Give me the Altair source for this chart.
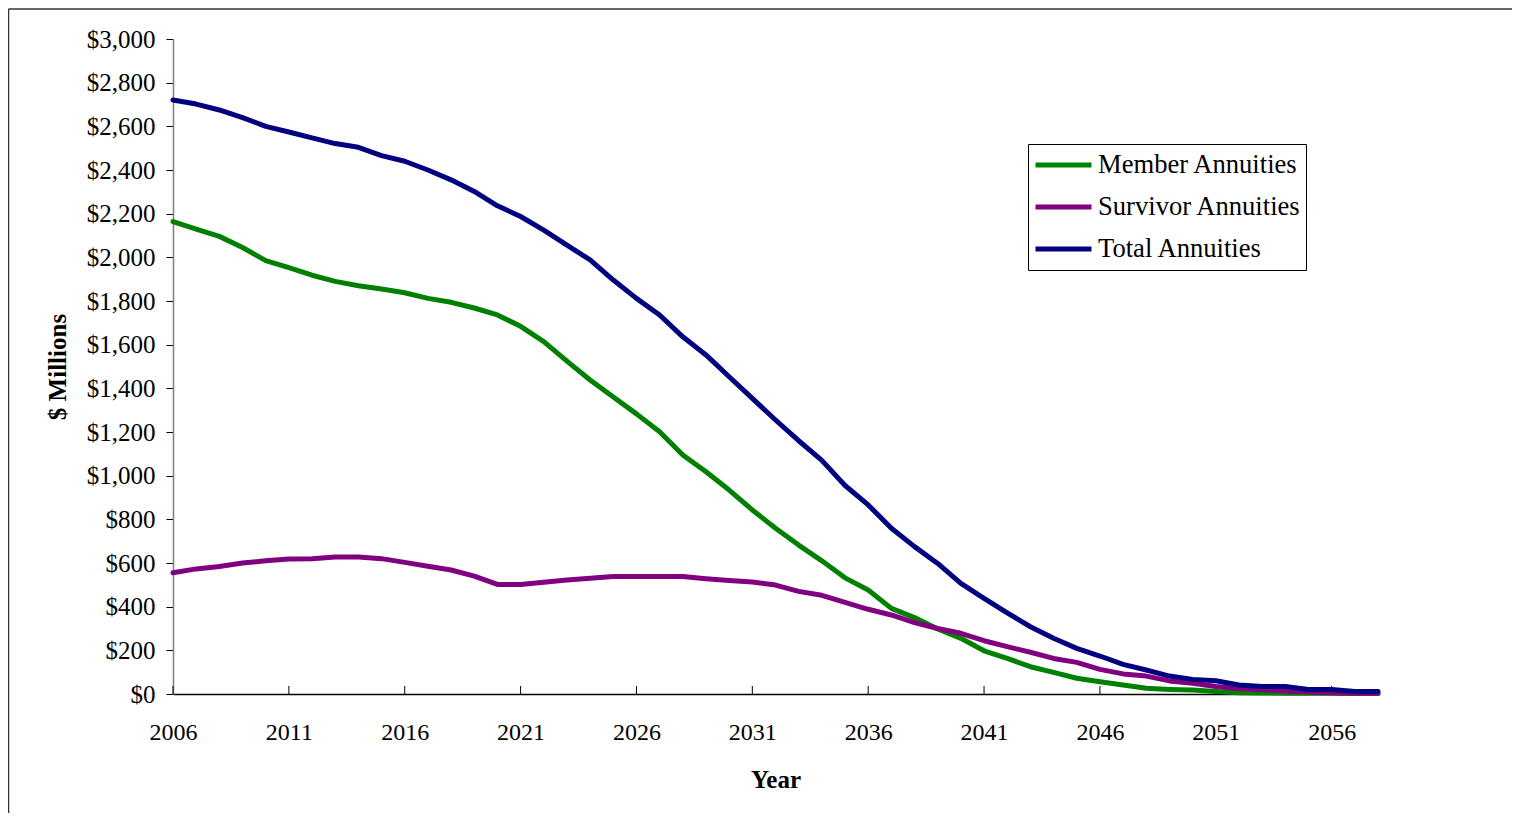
import altair as alt
import pandas as pd

years = list(range(2006, 2059))

member = [2164, 2129, 2096, 2045, 1985, 1953, 1918, 1890, 1870, 1855,
          1838, 1812, 1794, 1768, 1736, 1684, 1614, 1525, 1438, 1360,
          1283, 1201, 1095, 1018, 934, 843, 759, 682, 610, 532,
          476, 392, 350, 298, 255, 198, 163, 125, 99, 72,
          56, 41, 26, 21, 18, 11, 6, 5, 4, 3,
          3, 2, 2]

survivor = [555, 573, 584, 600, 610, 618, 620, 628, 628, 620,
            603, 585, 568, 540, 502, 502, 512, 522, 530, 538,
            538, 538, 538, 528, 520, 513, 499, 470, 452, 420,
            388, 362, 327, 300, 278, 244, 217, 191, 163, 145,
            113, 92, 82, 60, 49, 34, 24, 21, 14, 9,
            6, 4, 3]

total = [2721, 2702, 2675, 2640, 2600, 2574, 2547, 2521, 2504, 2466,
         2440, 2400, 2355, 2302, 2236, 2187, 2125, 2056, 1988, 1896,
         1812, 1736, 1636, 1553, 1453, 1354, 1255, 1160, 1070, 955,
         866, 759, 675, 598, 507, 438, 372, 308, 255, 209,
         174, 136, 110, 82, 67, 61, 41, 34, 34, 21,
         21, 11, 11]

series_names = ["Member Annuities", "Survivor Annuities", "Total Annuities"]
series_colors = ["#008000", "#800080", "#000080"]
x_label_years = list(range(2006, 2057, 5))
y_tick_values = list(range(0, 3001, 200))

rows = []
for name, vals in zip(series_names, [member, survivor, total]):
    for yr, v in zip(years, vals):
        rows.append({"Year": yr, "Value": v, "Series": name})
df = pd.DataFrame(rows)
ticks_df = pd.DataFrame({"Year": x_label_years})

W, H = 1205, 655
FONT = "Liberation Serif"

x_scale = alt.Scale(domain=[2006, 2058], nice=False, zero=False)
y_scale = alt.Scale(domain=[0, 3000], nice=False)

lines = alt.Chart(df).mark_line(strokeWidth=5, strokeCap="round", strokeJoin="round").encode(
    x=alt.X("Year:Q", scale=x_scale,
            axis=alt.Axis(values=x_label_years, format="d", title="Year",
                          ticks=False, tickSize=0, labelPadding=26,
                          labelFont=FONT, labelFontSize=24, labelColor="black",
                          titleFont=FONT, titleFontSize=25, titleFontWeight="bold",
                          titleColor="black", titlePadding=23,
                          domainColor="black", domainWidth=1.5, grid=False,
                          labelFlush=False, labelOverlap=False)),
    y=alt.Y("Value:Q", scale=y_scale,
            axis=alt.Axis(values=y_tick_values, format="$,.0f", title="$ Millions",
                          tickSize=7, tickColor="black", labelPadding=11,
                          labelFont=FONT, labelFontSize=25, labelColor="black",
                          titleFont=FONT, titleFontSize=25, titleFontWeight="bold",
                          titleColor="black", titlePadding=16,
                          domainColor="#808080", domainWidth=1.5, grid=False,
                          labelFlush=False, labelOverlap=False)),
    color=alt.Color("Series:N",
                    scale=alt.Scale(domain=series_names, range=series_colors),
                    legend=alt.Legend(title=None, orient="none", legendX=855, legendY=105,
                                      symbolType="stroke", symbolSize=3136,
                                      symbolStrokeWidth=5, labelFont=FONT,
                                      labelFontSize=26.6, labelColor="black",
                                      clipHeight=34, rowPadding=8, padding=4,
                                      symbolOffset=1, labelOffset=4,
                                      strokeColor="black", fillColor="white",
                                      labelLimit=400)),
)

xticks = alt.Chart(ticks_df).mark_rule(color="black", strokeWidth=1).encode(
    x=alt.X("Year:Q", scale=x_scale),
    y=alt.value(H - 8),
    y2=alt.value(H),
)

frame_top = alt.Chart(alt.Data(values=[{}])).mark_rule(color="#333333", strokeWidth=1.5).encode(
    x=alt.value(-164.5), x2=alt.value(W + 140), y=alt.value(-30)
)
frame_left = alt.Chart(alt.Data(values=[{}])).mark_rule(color="#333333", strokeWidth=1.5).encode(
    x=alt.value(-164.5), y=alt.value(-30), y2=alt.value(H + 125)
)

chart = alt.layer(frame_top, frame_left, xticks, lines).properties(
    width=W, height=H,
    background="white",
    autosize=alt.AutoSizeParams(type="none"),
    padding={"left": 165, "top": 31, "right": 134, "bottom": 119},
).configure_view(stroke=None)

chart.save("out.html", embed_options={"renderer": "svg", "actions": False})
